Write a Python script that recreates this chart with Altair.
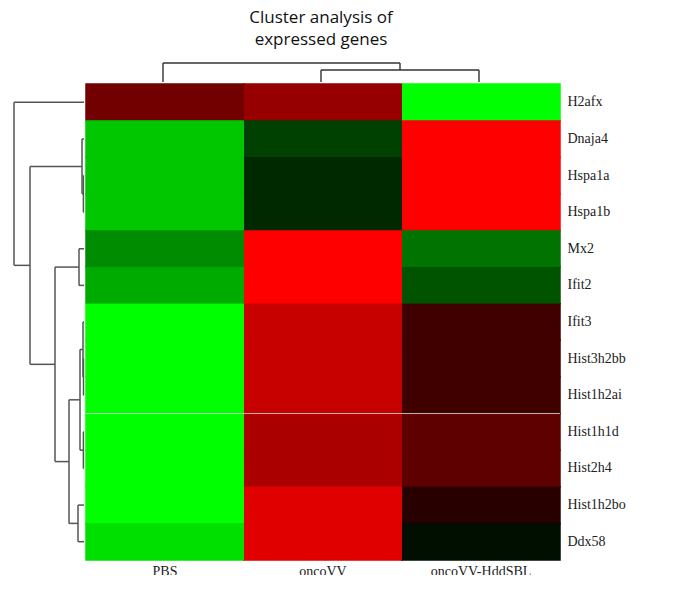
import altair as alt
import pandas as pd

# ---------------- data ----------------
genes = ["H2afx", "Dnaja4", "Hspa1a", "Hspa1b", "Mx2", "Ifit2", "Ifit3",
         "Hist3h2bb", "Hist1h2ai", "Hist1h1d", "Hist2h4", "Hist1h2bo", "Ddx58"]
groups = ["PBS", "oncoVV", "oncoVV-HddSBL"]
pbs = [0.45, -0.78, -0.78, -0.78, -0.55, -0.67, -1.0, -1.0, -1.0, -1.0, -1.0, -1.0, -0.88]
oncovv = [0.59, -0.25, -0.16, -0.16, 1.0, 1.0, 0.78, 0.78, 0.78, 0.67, 0.67, 0.88, 0.88]
hddsbl = [-1.0, 1.0, 1.0, 1.0, -0.45, -0.33, 0.25, 0.25, 0.25, 0.37, 0.37, 0.16, -0.06]

# hierarchical clustering of genes: (left, right, distance); "mK" = K-th merge
row_merges = [
    ("Hspa1a", "Hspa1b", 0.6),
    ("Hist3h2bb", "Hist1h2ai", 0.5),
    ("Hist1h1d", "Hist2h4", 0.6),
    ("Ifit3", "m1", 1.0),
    ("Dnaja4", "m0", 2.0),
    ("m3", "m2", 4.0),
    ("Mx2", "Ifit2", 5.0),
    ("Hist1h2bo", "Ddx58", 6.0),
    ("m5", "m7", 15.0),
    ("m6", "m8", 29.0),
    ("m4", "m9", 54.0),
    ("H2afx", "m10", 70.0),
]
# clustering of samples
col_merges = [
    ("oncoVV", "oncoVV-HddSBL", 12.0),
    ("PBS", "m0", 19.0),
]

legend_values = [1, 0.5, 0, -0.5, -1]
separator_gene = ["Hist1h1d"]


def dendro_segments(leaves, merges):
    pos = {name: (i + 0.5, 0.0) for i, name in enumerate(leaves)}
    segs = []
    for k, (a, b, h) in enumerate(merges):
        pa, ha = pos[a]
        pb, hb = pos[b]
        segs.append(dict(p=pa, p2=pa, h=ha, h2=h))
        segs.append(dict(p=pb, p2=pb, h=hb, h2=h))
        segs.append(dict(p=pa, p2=pb, h=h, h2=h))
        pos[f"m{k}"] = ((pa + pb) / 2, h)
    return pd.DataFrame(segs)


heat_df = pd.DataFrame(
    [{"gene": g, "group": grp, "value": v}
     for grp, vals in zip(groups, [pbs, oncovv, hddsbl])
     for g, v in zip(genes, vals)]
)
row_df = dendro_segments(genes, row_merges)
col_df = dendro_segments(groups, col_merges)
sep_df = pd.DataFrame({"gene": separator_gene})

HEAT_W, HEAT_H = 474, 476
LEFT_W, TOP_H = 74, 30
serif = "Liberation Serif"


def gr_scale():
    return alt.Scale(
        domain=[-1.16, -1, 0, 1, 1.16],
        range=["#00ff00", "#00ff00", "#000000", "#ff0000", "#ff0000"],
        interpolate="rgb",
    )


x_enc = alt.X("group:N", sort=groups, scale=alt.Scale(paddingInner=0, paddingOuter=0),
              axis=alt.Axis(orient="bottom", title=None, labelAngle=0, ticks=False,
                            domain=False, labelFont=serif, labelFontSize=14,
                            labelColor="#222", labelPadding=4))
y_enc = alt.Y("gene:N", sort=genes, scale=alt.Scale(paddingInner=0, paddingOuter=0),
              axis=alt.Axis(orient="right", title=None, ticks=False, domain=False,
                            labelFont=serif, labelFontSize=14, labelColor="#222",
                            labelPadding=7))

# ---------------- heatmap ----------------
# under-layer: cell outlines in the cell colour, hiding anti-aliased seams
edges = alt.Chart(heat_df).transform_calculate(edge="datum.value").mark_rect(
    fillOpacity=0, strokeWidth=1.5
).encode(
    x=x_enc, y=y_enc,
    stroke=alt.Stroke("edge:Q", scale=gr_scale(), legend=None),
)

heat = alt.Chart(heat_df).mark_rect().encode(
    x=x_enc, y=y_enc,
    color=alt.Color("value:Q", scale=gr_scale(),
                    legend=alt.Legend(type="gradient", title=None, orient="none",
                                      legendX=625, legendY=33, direction="vertical",
                                      gradientLength=200, gradientThickness=14,
                                      values=legend_values, format="~g",
                                      labelFont=serif, labelFontSize=13,
                                      labelColor="#222", labelOffset=3)),
)

sep = alt.Chart(sep_df).mark_rule(color="#e0e0e0", strokeWidth=1, opacity=0.8).encode(
    y=alt.Y("gene:N", sort=genes, bandPosition=0)
)

heat_layer = alt.layer(edges, heat, sep).properties(width=HEAT_W, height=HEAT_H)

# ---------------- left dendrogram ----------------
left = alt.Chart(row_df).mark_rule(color="#555555", strokeWidth=1.5).encode(
    x=alt.X("h:Q", scale=alt.Scale(domain=[0, LEFT_W], reverse=True), axis=None),
    x2="h2:Q",
    y=alt.Y("p:Q", scale=alt.Scale(domain=[0, len(genes)], reverse=True), axis=None),
    y2="p2:Q",
).properties(width=LEFT_W, height=HEAT_H)

# ---------------- top dendrogram ----------------
top = alt.Chart(col_df).mark_rule(color="#333333", strokeWidth=1.4).encode(
    x=alt.X("p:Q", scale=alt.Scale(domain=[0, len(groups)]), axis=None),
    x2="p2:Q",
    y=alt.Y("h:Q", scale=alt.Scale(domain=[0, TOP_H]), axis=None),
    y2="h2:Q",
).properties(
    width=HEAT_W, height=TOP_H,
    title=alt.TitleParams(["Cluster analysis of", "expressed genes"], font="Open Sans",
                          fontSize=17, fontWeight="normal", color="#111",
                          lineHeight=22, anchor="middle", offset=3),
)

spacer = alt.Chart(pd.DataFrame({"a": [0]})).mark_point(opacity=0).encode(
    x=alt.X("a:Q", axis=None), y=alt.Y("a:Q", axis=None)
).properties(width=LEFT_W, height=TOP_H)

row1 = alt.hconcat(spacer, top, spacing=0)
row2 = alt.hconcat(left, heat_layer, spacing=0)

chart = alt.vconcat(row1, row2, spacing=0).properties(
    padding={"left": 2, "top": 1, "right": 0, "bottom": -3}
).configure_view(stroke=None)

chart.save("out.html", embed_options={"renderer": "svg", "actions": False})
